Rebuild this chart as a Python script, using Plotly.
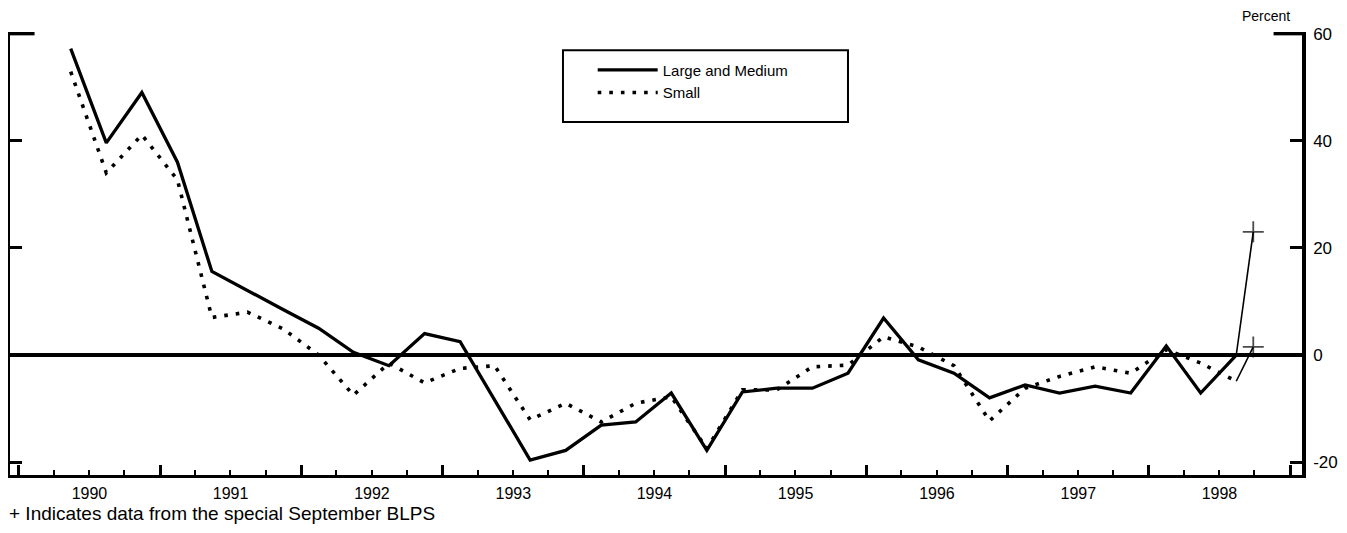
import plotly.graph_objects as go

# Survey dates (quarterly BLPS surveys)
survey_dates = [
    "1990-05-15", "1990-08-15", "1990-11-15",
    "1991-02-15", "1991-05-15", "1991-08-15", "1991-11-15",
    "1992-02-15", "1992-05-15", "1992-08-15", "1992-11-15",
    "1993-02-15", "1993-05-15", "1993-08-15", "1993-11-15",
    "1994-02-15", "1994-05-15", "1994-08-15", "1994-11-15",
    "1995-02-15", "1995-05-15", "1995-08-15", "1995-11-15",
    "1996-02-15", "1996-05-15", "1996-08-15", "1996-11-15",
    "1997-02-15", "1997-05-15", "1997-08-15", "1997-11-15",
    "1998-02-15", "1998-05-15", "1998-08-15",
]

large_medium = [57.2, 39.6, 49.0, 36.0, 15.6, 12.0, 8.5, 5.0, 0.5, -2.0,
                4.0, 2.5, -8.5, -19.6, -17.8, -13.1, -12.5, -7.1, -17.8, -6.9,
                -6.2, -6.2, -3.4, 6.9, -0.9, -3.4, -8.0, -5.6, -7.1, -5.8,
                -7.1, 1.7, -7.1, 0.0]

small = [52.9, 34.0, 41.1, 32.7, 7.0, 8.0, 4.9, 0.0, -7.5, -1.5,
         -5.2, -2.5, -2.0, -12.1, -9.0, -12.5, -9.0, -7.8, -17.5, -6.5,
         -6.5, -2.2, -1.9, 3.4, 1.5, -2.0, -12.3, -6.2, -4.0, -2.2,
         -3.4, 1.0, -1.5, -4.9]

# Special September 1998 BLPS
special_date = "1998-09-28"
special_large = 23.0
special_small = 1.5

y_ticks = [-20, 0, 20, 40, 60]
series_names = ["Large and Medium", "Small"]
footnote = "+ Indicates data from the special September BLPS"

FONT = "Liberation Sans, Arial, sans-serif"

fig = go.Figure()
fig.add_trace(go.Scatter(
    x=survey_dates, y=large_medium, mode="lines", name=series_names[0],
    line=dict(color="black", width=3.3),
))
fig.add_trace(go.Scatter(
    x=survey_dates, y=small, mode="lines", name=series_names[1],
    line=dict(color="black", width=3.6, dash="3.6px,8px"),
))
# special survey points joined to the last regular point
fig.add_trace(go.Scatter(
    x=[survey_dates[-1], special_date], y=[large_medium[-1], special_large],
    mode="lines+markers", showlegend=False,
    line=dict(color="black", width=1.6),
    marker=dict(symbol="cross-thin", size=[0, 15], line=dict(color="black", width=1.8)),
))
fig.add_trace(go.Scatter(
    x=[survey_dates[-1], special_date], y=[small[-1], special_small],
    mode="lines+markers", showlegend=False,
    line=dict(color="black", width=1.6),
    marker=dict(symbol="cross-thin", size=[0, 15], line=dict(color="black", width=1.8)),
))

# legend frame
fig.add_shape(type="rect", xref="paper", yref="paper",
              x0=0.428, x1=0.6486, y0=0.797, y1=0.959,
              line=dict(color="black", width=2), fillcolor="rgba(0,0,0,0)")
# longer ticks at 60 (top corners)
fig.add_shape(type="line", xref="x domain", yref="y", x0=0, x1=0.019, y0=60, y1=60,
              line=dict(color="black", width=3.5))
fig.add_shape(type="line", xref="x domain", yref="y", x0=0.978, x1=1, y0=60, y1=60,
              line=dict(color="black", width=3.5))

fig.add_annotation(text="Percent", xref="paper", yref="paper", x=0.972, y=1.036,
                   xanchor="center", yanchor="middle", showarrow=False, borderpad=0,
                   font=dict(family=FONT, size=14, color="black"))
fig.add_annotation(text=footnote, xref="paper", yref="paper", x=-0.0015, y=-0.0875,
                   xanchor="left", yanchor="middle", showarrow=False, borderpad=0,
                   font=dict(family=FONT, size=19, color="black"))

fig.update_layout(
    width=1331, height=517,
    margin=dict(l=2, r=37, t=24, b=50, autoexpand=False),
    paper_bgcolor="white", plot_bgcolor="white",
    font=dict(family=FONT, color="black"),
    showlegend=True,
    legend=dict(x=0.451, y=0.951, xanchor="left", yanchor="top",
                bgcolor="rgba(0,0,0,0)", borderwidth=0,
                font=dict(family=FONT, size=15, color="black"),
                itemwidth=60, tracegroupgap=0),
    xaxis=dict(
        type="date", range=["1989-12-09", "1999-02-01"],
        tick0="1990-01-01", dtick="M12", tickformat="%Y", ticklabelmode="period",
        ticks="inside", ticklen=10, tickwidth=2.5, tickcolor="black",
        minor=dict(dtick="M3", tick0="1990-01-01", ticks="inside", ticklen=5,
                   tickwidth=1.5, tickcolor="black", showgrid=False),
        showline=True, linewidth=3, linecolor="black", mirror=False,
        showgrid=False, zeroline=False, automargin=False,
        tickfont=dict(family=FONT, size=16, color="black"),
        ticklabelstandoff=2,
    ),
    yaxis=dict(
        range=[-22.4, 60.3], side="right",
        tickmode="array", tickvals=y_ticks, ticktext=[str(v) for v in y_ticks],
        ticks="inside", ticklen=12, tickwidth=3, tickcolor="black",
        showline=True, linewidth=3.5, linecolor="black", mirror="ticks",
        showgrid=False, automargin=False,
        zeroline=True, zerolinewidth=3.5, zerolinecolor="black",
        tickfont=dict(family=FONT, size=17, color="black"),
        ticklabelstandoff=4,
    ),
)

fig.write_html("out.html")
